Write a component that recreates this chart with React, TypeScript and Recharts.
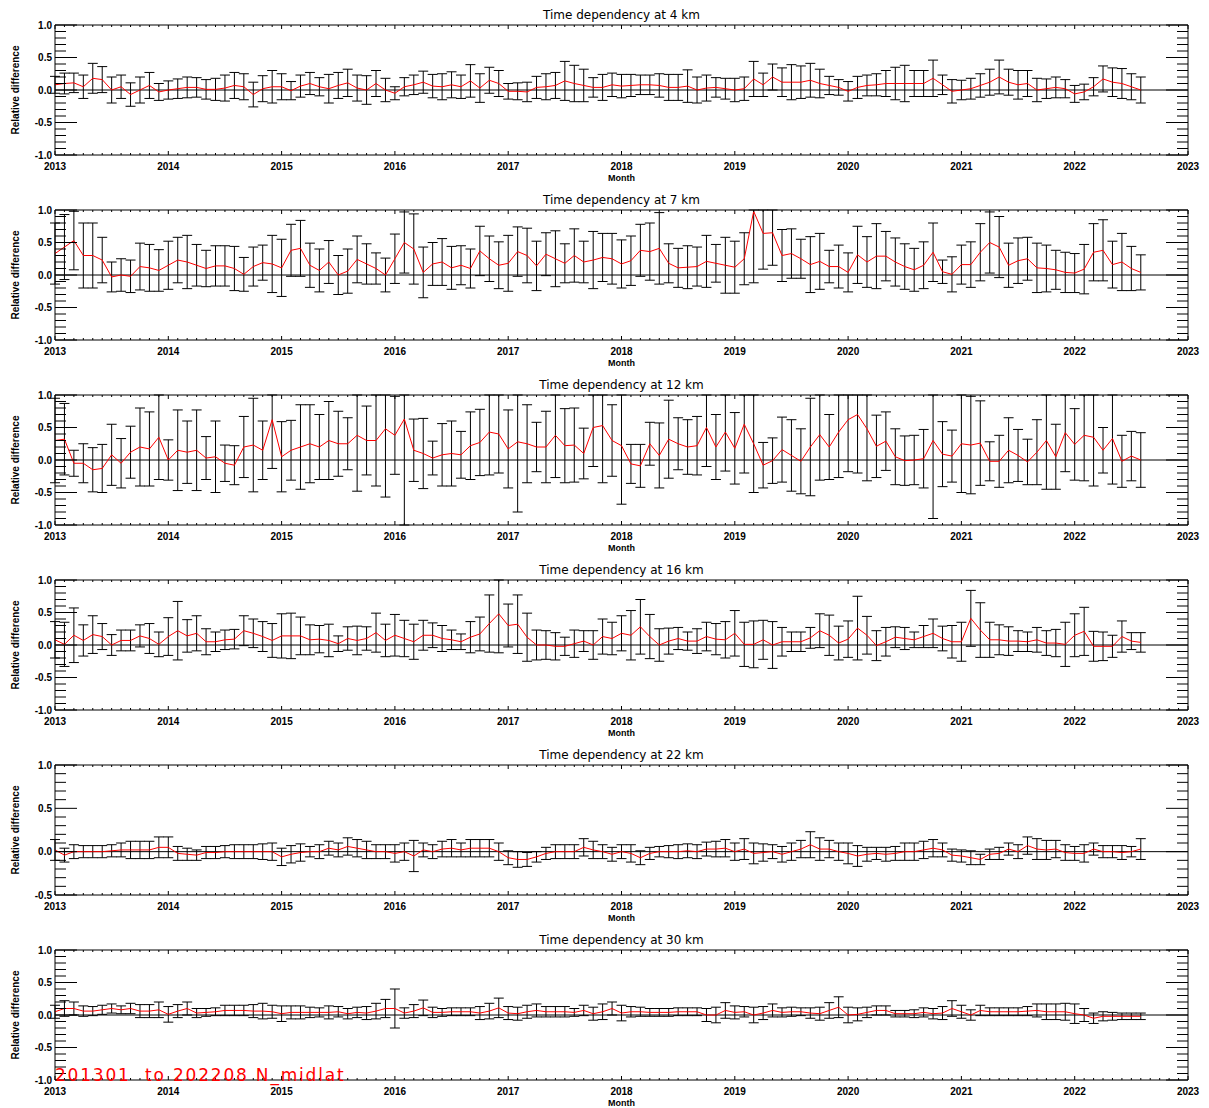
import React from 'react';
import { LineChart, Line, XAxis, YAxis, ErrorBar, ReferenceLine } from 'recharts';

// ---------- categories & ticks ----------
const MONTHS = Array.from({ length: 116 }, (_, i) => 2013 + i / 12); // Jan 2013 .. Aug 2022
const X_TICKS = Array.from({ length: 121 }, (_, i) => 2013 + i / 12);
const Y_TICKS_FULL = Array.from({ length: 21 }, (_, i) => (i - 10) / 10);
const Y_TICKS_22 = Array.from({ length: 16 }, (_, i) => (i - 5) / 10);

// ---------- series values (mean relative difference, error half-width) ----------
const mean4 = [
  0.08, 0.10, 0.11, 0.05, 0.18, 0.16, 0.00, 0.05, -0.07, 0.00, 0.07, -0.03,
  0.00, 0.02, 0.04, 0.04, 0.01, 0.01, 0.03, 0.07, 0.05, -0.07, 0.02, 0.05,
  0.05, -0.01, 0.06, 0.10, 0.05, 0.02, 0.07, 0.11, 0.03, 0.00, 0.10, 0.00,
  -0.05, 0.05, 0.08, 0.12, 0.06, 0.05, 0.08, 0.05, 0.14, 0.03, 0.15, 0.10,
  -0.02, -0.02, -0.03, 0.04, 0.05, 0.07, 0.14, 0.10, 0.07, 0.04, 0.04, 0.08,
  0.06, 0.07, 0.08, 0.08, 0.07, 0.04, 0.04, 0.06, 0.00, 0.03, 0.04, 0.02,
  0.00, 0.02, 0.17, 0.08, 0.20, 0.12, 0.12, 0.12, 0.15, 0.10, 0.07, 0.04,
  -0.02, 0.04, 0.07, 0.08, 0.10, 0.10, 0.10, 0.10, 0.10, 0.18, 0.08, -0.02,
  0.00, 0.02, 0.07, 0.12, 0.20, 0.12, 0.08, 0.10, 0.00, 0.02, 0.04, 0.02,
  -0.06, -0.03, 0.05, 0.17, 0.12, 0.10, 0.05, 0.00,
];
const err4 = [
  0.13, 0.16, 0.15, 0.18, 0.23, 0.20, 0.20, 0.18, 0.18, 0.20, 0.20, 0.13,
  0.14, 0.15, 0.16, 0.15, 0.15, 0.17, 0.20, 0.20, 0.20, 0.19, 0.20, 0.25,
  0.20, 0.14, 0.17, 0.17, 0.14, 0.22, 0.20, 0.21, 0.20, 0.22, 0.20, 0.18,
  0.10, 0.14, 0.15, 0.17, 0.18, 0.20, 0.20, 0.18, 0.25, 0.22, 0.20, 0.20,
  0.12, 0.13, 0.15, 0.17, 0.20, 0.20, 0.30, 0.28, 0.25, 0.15, 0.20, 0.18,
  0.18, 0.17, 0.15, 0.15, 0.18, 0.20, 0.20, 0.25, 0.20, 0.20, 0.15, 0.16,
  0.18, 0.18, 0.27, 0.18, 0.20, 0.22, 0.27, 0.25, 0.26, 0.22, 0.14, 0.12,
  0.15, 0.17, 0.16, 0.17, 0.20, 0.25, 0.28, 0.20, 0.20, 0.28, 0.15, 0.18,
  0.15, 0.16, 0.18, 0.20, 0.26, 0.20, 0.22, 0.20, 0.18, 0.15, 0.16, 0.14,
  0.13, 0.12, 0.14, 0.20, 0.22, 0.23, 0.20, 0.20,
];

const mean7 = [
  0.33, 0.43, 0.53, 0.30, 0.30, 0.23, -0.03, 0.00, -0.02, 0.13, 0.11, 0.07,
  0.15, 0.23, 0.20, 0.15, 0.10, 0.14, 0.14, 0.10, 0.01, 0.13, 0.19, 0.17,
  0.11, 0.38, 0.41, 0.15, 0.07, 0.20, 0.00, 0.06, 0.24, 0.17, 0.10, 0.00,
  0.25, 0.50, 0.40, 0.04, 0.17, 0.20, 0.11, 0.15, 0.10, 0.37, 0.25, 0.15,
  0.18, 0.36, 0.30, 0.14, 0.32, 0.25, 0.18, 0.30, 0.20, 0.23, 0.27, 0.25,
  0.17, 0.22, 0.38, 0.36, 0.41, 0.18, 0.11, 0.12, 0.13, 0.21, 0.18, 0.15,
  0.12, 0.25, 0.98, 0.64, 0.65, 0.30, 0.33, 0.25, 0.16, 0.21, 0.13, 0.13,
  0.04, 0.31, 0.20, 0.29, 0.29, 0.20, 0.13, 0.08, 0.15, 0.35, 0.05, 0.01,
  0.16, 0.16, 0.35, 0.50, 0.43, 0.15, 0.22, 0.25, 0.11, 0.10, 0.08, 0.04,
  0.03, 0.09, 0.35, 0.38, 0.16, 0.20, 0.10, 0.04,
];
const err7 = [
  0.47, 0.50, 0.45, 0.50, 0.50, 0.35, 0.23, 0.25, 0.25, 0.36, 0.36, 0.32,
  0.37, 0.35, 0.41, 0.32, 0.28, 0.31, 0.31, 0.34, 0.26, 0.30, 0.27, 0.44,
  0.44, 0.40, 0.43, 0.34, 0.33, 0.33, 0.30, 0.34, 0.36, 0.31, 0.24, 0.26,
  0.38, 0.47, 0.54, 0.39, 0.33, 0.36, 0.33, 0.30, 0.30, 0.38, 0.35, 0.36,
  0.43, 0.38, 0.42, 0.38, 0.33, 0.43, 0.30, 0.41, 0.32, 0.44, 0.37, 0.39,
  0.37, 0.38, 0.40, 0.44, 0.55, 0.30, 0.30, 0.33, 0.30, 0.40, 0.29, 0.43,
  0.40, 0.40, 1.10, 0.55, 0.50, 0.40, 0.38, 0.30, 0.43, 0.43, 0.25, 0.33,
  0.30, 0.44, 0.39, 0.50, 0.38, 0.37, 0.35, 0.33, 0.36, 0.45, 0.18, 0.27,
  0.30, 0.35, 0.44, 0.47, 0.47, 0.34, 0.35, 0.33, 0.38, 0.36, 0.30, 0.31,
  0.30, 0.38, 0.44, 0.47, 0.36, 0.44, 0.34, 0.27,
];

const mean12 = [
  0.30, 0.32, -0.05, -0.05, -0.15, -0.13, 0.08, -0.05, 0.12, 0.20, 0.17, 0.35,
  0.00, 0.15, 0.12, 0.15, 0.03, 0.05, -0.05, -0.08, 0.20, 0.23, 0.15, 0.62,
  0.05, 0.15, 0.20, 0.25, 0.20, 0.30, 0.25, 0.25, 0.38, 0.30, 0.30, 0.48,
  0.38, 0.63, 0.15, 0.10, 0.03, 0.08, 0.10, 0.08, 0.22, 0.27, 0.43, 0.40,
  0.17, 0.28, 0.25, 0.20, 0.20, 0.38, 0.22, 0.23, 0.10, 0.50, 0.53, 0.30,
  0.22, -0.06, -0.09, 0.25, 0.07, 0.32, 0.25, 0.20, 0.22, 0.50, 0.20, 0.43,
  0.18, 0.55, 0.25, -0.08, -0.01, 0.16, 0.07, -0.02, 0.20, 0.39, 0.20, 0.43,
  0.62, 0.70, 0.48, 0.21, 0.29, 0.05, -0.01, 0.00, 0.02, 0.30, 0.09, 0.06,
  0.25, 0.23, 0.26, -0.02, -0.02, 0.15, 0.07, -0.03, 0.12, 0.30, 0.05, 0.42,
  0.24, 0.38, 0.35, 0.15, 0.33, -0.02, 0.06, 0.00,
];
const err12 = [
  0.65, 0.55, 0.20, 0.30, 0.34, 0.37, 0.47, 0.38, 0.40, 0.60, 0.57, 0.65,
  0.31, 0.62, 0.48, 0.62, 0.33, 0.55, 0.28, 0.30, 0.47, 0.72, 0.45, 0.75,
  0.54, 0.46, 0.65, 0.60, 0.50, 0.60, 0.50, 0.40, 0.86, 0.53, 0.70, 1.05,
  0.60, 1.70, 0.48, 0.54, 0.26, 0.48, 0.50, 0.36, 0.52, 0.51, 0.66, 0.60,
  0.60, 1.08, 0.60, 0.38, 0.55, 0.65, 0.57, 0.57, 0.39, 0.60, 0.88, 0.55,
  0.90, 0.30, 0.33, 0.33, 0.50, 0.60, 0.40, 0.42, 0.45, 0.60, 0.50, 0.60,
  0.55, 0.75, 0.75, 0.35, 0.35, 0.50, 0.55, 0.50, 0.75, 0.70, 0.50, 0.70,
  0.80, 0.90, 0.80, 0.48, 0.45, 0.43, 0.38, 0.38, 0.45, 1.20, 0.50, 0.40,
  0.75, 0.75, 0.65, 0.30, 0.40, 0.50, 0.40, 0.35, 0.50, 0.75, 0.50, 0.60,
  0.55, 0.70, 0.75, 0.35, 0.70, 0.40, 0.38, 0.42,
];

const mean16 = [
  0.08, 0.01, 0.15, 0.07, 0.16, 0.13, 0.00, 0.07, 0.07, 0.14, 0.10, 0.01,
  0.13, 0.22, 0.14, 0.18, 0.05, 0.05, 0.08, 0.09, 0.22, 0.18, 0.13, 0.07,
  0.14, 0.14, 0.14, 0.08, 0.09, 0.07, 0.02, 0.10, 0.07, 0.10, 0.19, 0.07,
  0.15, 0.10, 0.05, 0.15, 0.15, 0.10, 0.08, 0.05, 0.12, 0.17, 0.33, 0.48,
  0.30, 0.32, 0.12, 0.00, 0.00, -0.02, -0.02, 0.02, 0.06, 0.00, 0.13, 0.10,
  0.18, 0.15, 0.28, 0.13, 0.00, 0.06, 0.10, 0.06, 0.06, 0.13, 0.09, 0.08,
  0.18, 0.01, 0.01, 0.08, 0.00, 0.05, 0.05, 0.05, 0.11, 0.22, 0.15, 0.03,
  0.09, 0.26, 0.15, -0.01, 0.05, 0.12, 0.10, 0.08, 0.13, 0.18, 0.10, 0.05,
  0.05, 0.41, 0.23, 0.08, 0.08, 0.06, 0.06, 0.05, 0.08, 0.03, 0.03, 0.01,
  0.15, 0.21, -0.02, -0.02, -0.02, 0.13, 0.06, 0.04,
];
const err16 = [
  0.28, 0.34, 0.42, 0.24, 0.29, 0.20, 0.16, 0.16, 0.16, 0.17, 0.23, 0.19,
  0.29, 0.45, 0.25, 0.27, 0.20, 0.15, 0.15, 0.15, 0.23, 0.22, 0.23, 0.26,
  0.34, 0.35, 0.29, 0.23, 0.21, 0.25, 0.12, 0.18, 0.22, 0.18, 0.30, 0.25,
  0.32, 0.28, 0.27, 0.23, 0.19, 0.20, 0.15, 0.12, 0.24, 0.26, 0.44, 0.60,
  0.33, 0.45, 0.37, 0.23, 0.22, 0.21, 0.14, 0.21, 0.16, 0.22, 0.27, 0.25,
  0.27, 0.38, 0.42, 0.34, 0.25, 0.20, 0.17, 0.14, 0.19, 0.22, 0.24, 0.28,
  0.35, 0.34, 0.36, 0.30, 0.36, 0.22, 0.15, 0.15, 0.16, 0.26, 0.31, 0.26,
  0.28, 0.49, 0.29, 0.23, 0.22, 0.16, 0.17, 0.12, 0.17, 0.22, 0.19, 0.25,
  0.30, 0.43, 0.42, 0.27, 0.23, 0.22, 0.16, 0.15, 0.19, 0.19, 0.21, 0.34,
  0.33, 0.37, 0.23, 0.22, 0.17, 0.24, 0.13, 0.15,
];

const mean22 = [
  0.02, -0.04, 0.00, 0.00, 0.00, 0.00, 0.01, 0.02, 0.02, 0.02, 0.02, 0.05,
  0.05, -0.02, -0.03, -0.04, -0.01, -0.01, 0.00, 0.00, 0.00, 0.00, 0.00, 0.00,
  -0.06, -0.03, -0.01, 0.00, 0.00, 0.04, 0.02, 0.06, 0.04, 0.02, 0.00, 0.00,
  -0.02, 0.00, -0.05, 0.02, 0.00, 0.03, 0.04, 0.02, 0.04, 0.04, 0.04, 0.00,
  -0.07, -0.09, -0.09, -0.06, -0.02, 0.00, 0.00, 0.00, 0.05, 0.02, 0.00, -0.03,
  0.00, -0.02, -0.07, -0.02, 0.00, 0.00, 0.00, 0.01, 0.00, 0.03, 0.03, 0.04,
  0.00, 0.03, -0.02, -0.01, 0.00, -0.03, 0.00, 0.03, 0.08, 0.03, 0.03, 0.00,
  -0.02, -0.05, -0.03, -0.02, -0.03, -0.02, 0.00, 0.00, 0.02, 0.04, 0.02, -0.04,
  -0.05, -0.07, -0.09, -0.03, -0.02, 0.03, 0.00, 0.07, 0.03, 0.02, 0.03, -0.01,
  -0.02, -0.02, 0.03, 0.00, 0.00, -0.01, 0.00, 0.03,
];
const err22 = [
  0.12, 0.08, 0.08, 0.07, 0.07, 0.07, 0.07, 0.08, 0.10, 0.10, 0.10, 0.12,
  0.12, 0.08, 0.07, 0.06, 0.07, 0.07, 0.07, 0.08, 0.08, 0.08, 0.09, 0.10,
  0.10, 0.10, 0.10, 0.06, 0.08, 0.08, 0.08, 0.10, 0.10, 0.10, 0.08, 0.08,
  0.10, 0.10, 0.18, 0.08, 0.08, 0.09, 0.10, 0.08, 0.10, 0.10, 0.10, 0.10,
  0.08, 0.09, 0.08, 0.06, 0.07, 0.08, 0.08, 0.08, 0.10, 0.10, 0.08, 0.08,
  0.08, 0.10, 0.08, 0.07, 0.06, 0.07, 0.08, 0.08, 0.08, 0.08, 0.09, 0.10,
  0.10, 0.12, 0.12, 0.10, 0.08, 0.09, 0.10, 0.10, 0.15, 0.13, 0.10, 0.10,
  0.12, 0.12, 0.08, 0.07, 0.08, 0.08, 0.10, 0.10, 0.10, 0.10, 0.08, 0.07,
  0.07, 0.08, 0.06, 0.06, 0.07, 0.07, 0.08, 0.10, 0.12, 0.11, 0.10, 0.09,
  0.08, 0.10, 0.07, 0.07, 0.07, 0.08, 0.06, 0.12,
];

const mean30 = [
  0.05, 0.10, 0.10, 0.06, 0.06, 0.08, 0.10, 0.08, 0.10, 0.06, 0.06, 0.08,
  0.01, 0.06, 0.10, 0.03, 0.04, 0.05, 0.07, 0.07, 0.07, 0.06, 0.06, 0.05,
  0.02, 0.04, 0.04, 0.04, 0.04, 0.04, 0.05, 0.02, 0.04, 0.03, 0.06, 0.10,
  0.10, 0.03, 0.06, 0.11, 0.04, 0.04, 0.05, 0.05, 0.05, 0.03, 0.06, 0.11,
  0.03, 0.02, 0.05, 0.07, 0.05, 0.05, 0.05, 0.04, 0.07, 0.02, 0.05, 0.10,
  0.03, 0.05, 0.05, 0.04, 0.04, 0.04, 0.05, 0.05, 0.05, 0.00, 0.00, 0.07,
  0.04, 0.05, 0.00, 0.03, 0.07, 0.04, 0.05, 0.05, 0.03, 0.02, 0.07, 0.12,
  0.00, 0.01, 0.04, 0.07, 0.07, 0.02, 0.02, 0.02, 0.04, 0.02, 0.03, 0.10,
  0.05, 0.00, 0.07, 0.05, 0.05, 0.05, 0.05, 0.06, 0.07, 0.05, 0.05, 0.05,
  0.02, 0.00, -0.05, -0.02, -0.02, -0.02, -0.02, -0.02,
];
const err30 = [
  0.10, 0.12, 0.10, 0.08, 0.07, 0.07, 0.07, 0.06, 0.08, 0.10, 0.10, 0.12,
  0.12, 0.10, 0.10, 0.07, 0.06, 0.06, 0.08, 0.08, 0.08, 0.10, 0.12, 0.10,
  0.12, 0.10, 0.10, 0.08, 0.07, 0.10, 0.08, 0.08, 0.08, 0.10, 0.12, 0.14,
  0.30, 0.08, 0.10, 0.12, 0.08, 0.06, 0.06, 0.06, 0.06, 0.10, 0.12, 0.15,
  0.10, 0.10, 0.10, 0.10, 0.08, 0.08, 0.08, 0.06, 0.08, 0.10, 0.12, 0.10,
  0.12, 0.08, 0.07, 0.06, 0.06, 0.06, 0.06, 0.06, 0.06, 0.10, 0.12, 0.12,
  0.10, 0.08, 0.12, 0.10, 0.10, 0.07, 0.07, 0.06, 0.08, 0.10, 0.12, 0.16,
  0.12, 0.10, 0.08, 0.07, 0.07, 0.05, 0.05, 0.06, 0.07, 0.08, 0.10, 0.12,
  0.10, 0.08, 0.08, 0.06, 0.06, 0.06, 0.06, 0.07, 0.10, 0.12, 0.12, 0.13,
  0.15, 0.10, 0.08, 0.07, 0.06, 0.05, 0.05, 0.05,
];

const PANELS = [
  { title: 'Time dependency at 4 km', mean: mean4, err: err4, domain: [-1, 1], yTicks: Y_TICKS_FULL },
  { title: 'Time dependency at 7 km', mean: mean7, err: err7, domain: [-1, 1], yTicks: Y_TICKS_FULL },
  { title: 'Time dependency at 12 km', mean: mean12, err: err12, domain: [-1, 1], yTicks: Y_TICKS_FULL },
  { title: 'Time dependency at 16 km', mean: mean16, err: err16, domain: [-1, 1], yTicks: Y_TICKS_FULL },
  { title: 'Time dependency at 22 km', mean: mean22, err: err22, domain: [-0.5, 1], yTicks: Y_TICKS_22 },
  { title: 'Time dependency at 30 km', mean: mean30, err: err30, domain: [-1, 1], yTicks: Y_TICKS_FULL },
];

// ---------- layout ----------
const W = 1209;
const PANEL_H = 185;
const LEFT_W = 55;
const RIGHT_W = 21;
const TOP_M = 24;
const BOTTOM_H = 30;
const LABEL_FONT = '"Liberation Sans", Arial, sans-serif';
const TITLE_FONT = '"DejaVu Sans", sans-serif';

const isYear = (v: number) => Math.abs(v - Math.round(v)) < 1e-6;
const isMajorY = (v: number) => Math.abs(v * 2 - Math.round(v * 2)) < 1e-6;

function BottomTick(props: any) {
  const { x, y, payload } = props;
  const v = payload.value;
  const yr = isYear(v);
  return (
    <g>
      <line x1={x} x2={x} y1={y} y2={y - (yr ? 4 : 2)} stroke="#000" strokeWidth={1} />
      {yr && (
        <text x={x} y={y + 15} textAnchor="middle" fontSize={10} fontWeight="bold" fontFamily={LABEL_FONT} fill="#000">
          {Math.round(v)}
        </text>
      )}
    </g>
  );
}

function TopTick(props: any) {
  const { x, y, payload } = props;
  const yr = isYear(payload.value);
  return <line x1={x} x2={x} y1={y} y2={y + (yr ? 4 : 2)} stroke="#000" strokeWidth={1} />;
}

function LeftTick(props: any) {
  const { x, y, payload } = props;
  const v = payload.value;
  const major = isMajorY(v);
  return (
    <g>
      <line x1={x} x2={x + (major ? 22 : 11)} y1={y} y2={y} stroke="#000" strokeWidth={1} />
      {major && (
        <text x={x - 3} y={y + 3.5} textAnchor="end" fontSize={10} fontWeight="bold" fontFamily={LABEL_FONT} fill="#000">
          {v.toFixed(1)}
        </text>
      )}
    </g>
  );
}

function RightTick(props: any) {
  const { x, y, payload } = props;
  const major = isMajorY(payload.value);
  return <line x1={x} x2={x - (major ? 22 : 11)} y1={y} y2={y} stroke="#000" strokeWidth={1} />;
}

function Panel({ title, mean, err, domain, yTicks, tag }: any) {
  const [lo, hi] = domain;
  const data = MONTHS.map((t, i) => ({ t, m: mean[i], e: err[i] }));
  // error extent, cut at the plot frame (the original plot clips bars at its axes)
  const clippedErr = (d: any) => [Math.max(0, Math.min(d.e, d.m - lo)), Math.max(0, Math.min(d.e, hi - d.m))];
  const plotMidX = LEFT_W + (W - LEFT_W - RIGHT_W) / 2;
  const plotMidY = TOP_M + 1 + (PANEL_H - TOP_M - 1 - BOTTOM_H) / 2;
  return (
    <div style={{ position: 'relative', width: W, height: PANEL_H }}>
      <LineChart width={W} height={PANEL_H} data={data} margin={{ top: TOP_M, right: 0, bottom: 0, left: 0 }}>
        <XAxis
          xAxisId="b"
          dataKey="t"
          type="number"
          domain={[2013, 2023]}
          allowDataOverflow
          ticks={X_TICKS}
          interval={0}
          height={BOTTOM_H}
          tickLine={false}
          tickSize={0}
          tickMargin={0}
          axisLine={{ stroke: '#000', strokeWidth: 1 }}
          tick={(p: any) => <BottomTick {...p} />}
        />
        <XAxis
          xAxisId="top"
          orientation="top"
          dataKey="t"
          type="number"
          domain={[2013, 2023]}
          allowDataOverflow
          ticks={X_TICKS}
          interval={0}
          height={1}
          tickLine={false}
          tickSize={0}
          tickMargin={0}
          axisLine={{ stroke: '#000', strokeWidth: 1 }}
          tick={(p: any) => <TopTick {...p} />}
        />
        <YAxis
          yAxisId="l"
          type="number"
          domain={domain}
          allowDataOverflow
          ticks={yTicks}
          interval={0}
          width={LEFT_W}
          tickLine={false}
          tickSize={0}
          tickMargin={0}
          axisLine={{ stroke: '#000', strokeWidth: 1 }}
          tick={(p: any) => <LeftTick {...p} />}
        />
        <YAxis
          yAxisId="r"
          orientation="right"
          type="number"
          domain={domain}
          allowDataOverflow
          ticks={yTicks}
          interval={0}
          width={RIGHT_W}
          tickLine={false}
          tickSize={0}
          tickMargin={0}
          axisLine={{ stroke: '#000', strokeWidth: 1 }}
          tick={(p: any) => <RightTick {...p} />}
        />
        <ReferenceLine xAxisId="b" yAxisId="l" y={0} stroke="#000" strokeWidth={1} />
        <Line
          xAxisId="b"
          yAxisId="l"
          dataKey="m"
          type="linear"
          stroke="#ff0000"
          strokeWidth={1}
          dot={false}
          activeDot={false}
          isAnimationActive={false}
        >
          <ErrorBar dataKey={clippedErr} width={5} stroke="#000" strokeWidth={1} direction="y" />
        </Line>
      </LineChart>
      <div
        style={{
          position: 'absolute', left: plotMidX, top: 15, transform: 'translate(-50%, -50%)',
          fontFamily: TITLE_FONT, fontSize: 12, whiteSpace: 'nowrap', color: '#000', lineHeight: '14px',
        }}
      >
        {title}
      </div>
      <div
        style={{
          position: 'absolute', left: 16, top: plotMidY, transform: 'translate(-50%, -50%) rotate(-90deg)',
          fontFamily: LABEL_FONT, fontSize: 10, fontWeight: 'bold', whiteSpace: 'nowrap', color: '#000', lineHeight: '12px',
        }}
      >
        Relative difference
      </div>
      <div
        style={{
          position: 'absolute', left: plotMidX, top: 178, transform: 'translate(-50%, -50%)',
          fontFamily: LABEL_FONT, fontSize: 9, fontWeight: 'bold', whiteSpace: 'nowrap', color: '#000', lineHeight: '10px',
        }}
      >
        Month
      </div>
      {tag && (
        <div
          style={{
            position: 'absolute', left: LEFT_W, top: 150, transform: 'translateY(-50%)',
            fontFamily: TITLE_FONT, fontSize: 17, letterSpacing: 1.8, whiteSpace: 'pre', color: '#ff0000', lineHeight: '18px',
          }}
        >
          {tag}
        </div>
      )}
    </div>
  );
}

export default function App() {
  return (
    <div style={{ position: 'absolute', left: 0, top: 0, width: W, background: '#fff' }}>
      {PANELS.map((p, i) => (
        <Panel key={p.title} {...p} tag={i === PANELS.length - 1 ? '201301  to 202208 N_midlat' : null} />
      ))}
    </div>
  );
}
